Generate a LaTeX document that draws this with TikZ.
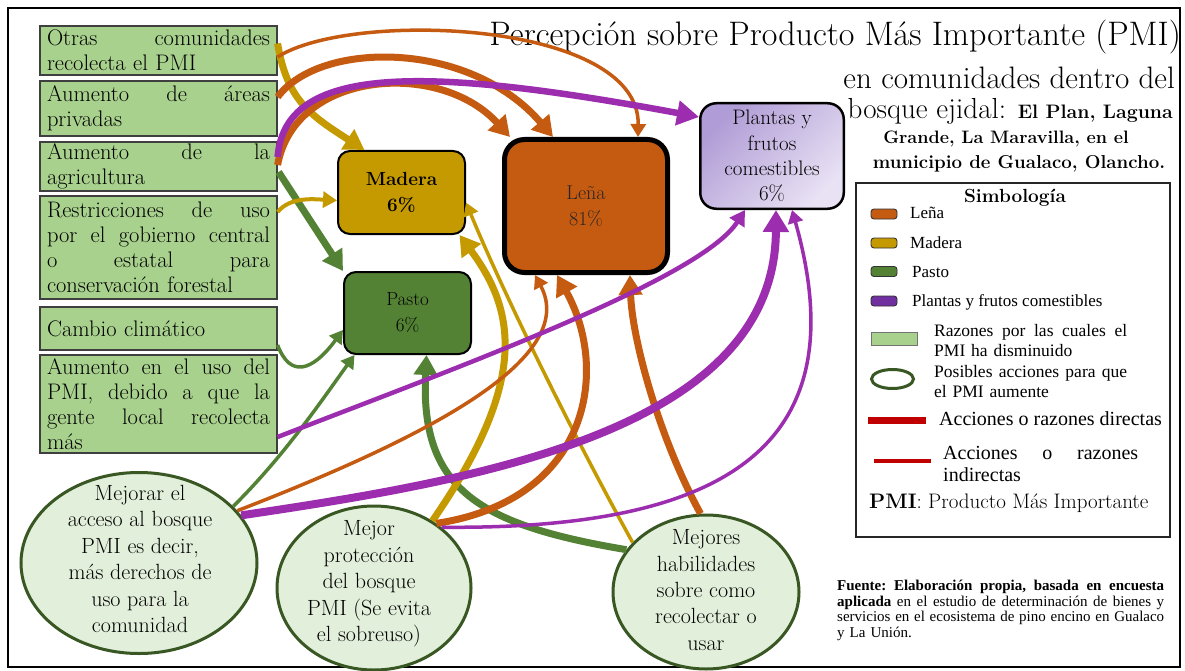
\documentclass[tikz,border=0pt]{standalone}
\usepackage{fontspec}
\newfontfamily\timesf{Liberation Serif}
\usetikzlibrary{arrows.meta,shapes.geometric}

\definecolor{lenacol}{HTML}{C55A11}
\definecolor{maderacol}{HTML}{C49A00}
\definecolor{pastocol}{HTML}{548235}
\definecolor{plantacol}{HTML}{9C2DAE}
\definecolor{plantaswatch}{HTML}{7030A0}
\definecolor{reasonfill}{HTML}{A9D18E}
\definecolor{reasonline}{HTML}{3F3F3F}
\definecolor{actfill}{HTML}{E2EFDA}
\definecolor{actline}{HTML}{385723}
\definecolor{redline}{HTML}{C00000}
\definecolor{plantatop}{HTML}{B09CD6}
\definecolor{plantabot}{HTML}{E9E2F4}

% a line of text whose word spaces stretch to the given width
\newcommand\jl[2]{\leavevmode\hbox to #1{\frenchspacing\spaceskip=0.3em plus 1fill\relax
  \xspaceskip=\spaceskip #2}}

\begin{document}
\begin{tikzpicture}[x=1pt,y=-1pt,
  reason/.style={draw=reasonline, fill=reasonfill, line width=1.2pt, minimum width=237pt,
    inner xsep=7pt, inner ysep=0pt, text width=223pt, align=left,
    font=\fontsize{22.5}{25}\selectfont},
  prodbox/.style={draw=black, rounded corners=12pt, inner sep=0pt, align=center,
    font=\fontsize{19}{26}\selectfont},
  action/.style={ellipse, draw=actline, fill=actfill, line width=3pt, inner sep=0pt},
  actiontext/.style={align=center, inner sep=0pt, font=\fontsize{22}{26.4}\selectfont},
  direct/.style={line width=7pt, -{Triangle[length=20pt,width=23pt]}},
  indirect/.style={line width=3.5pt, -{Triangle[length=13pt,width=15pt]}},
  swatch/.style={draw=black!80, line width=0.9pt, rounded corners=3pt,
    minimum width=26pt, minimum height=10pt, inner sep=0pt},
  legtext/.style={anchor=west, inner sep=0pt, font=\timesf\fontsize{17}{20}\selectfont},
]
\useasboundingbox (0,0) rectangle (1185,671);
\fill[white] (0,0) rectangle (1185,671);
\draw[line width=2.5pt] (8,8) rectangle (1180,667);

% ---------- title ----------
\node[anchor=base east, inner sep=0pt, font=\fontsize{34}{40}\selectfont] (title) at (1181,46)
  {Percepción sobre Producto Más Importante (PMI)};
\node[anchor=base east, inner sep=0pt, font=\fontsize{31}{36}\selectfont] (sub1) at (1175,89)
  {en comunidades dentro del};
\node[anchor=base east, inner sep=0pt, font=\fontsize{29}{34}\selectfont] (sub2) at (1173,119)
  {bosque ejidal: {\bfseries\fontsize{19.5}{23}\selectfont El Plan, Laguna}};
\node[anchor=base, inner sep=0pt, font=\bfseries\fontsize{18}{22}\selectfont] (sub3) at (1006,144)
  {Grande, La Maravilla, en el};
\node[anchor=base, inner sep=0pt, font=\bfseries\fontsize{18.7}{22}\selectfont] (sub4) at (1019,168)
  {municipio de Gualaco, Olancho.};

% ---------- reasons (left column) ----------
\node[reason, minimum height=49pt] (b1) at (158.5,50.5)
  {\jl{223pt}{Otras comunidades}\\recolecta el PMI};
\node[reason, minimum height=55pt] (b2) at (158.5,108.5)
  {\jl{223pt}{Aumento de áreas}\\privadas};
\node[reason, minimum height=49pt] (b3) at (158.5,166.5)
  {\jl{223pt}{Aumento de la}\\agricultura};
\node[reason, minimum height=103pt] (b4) at (158.5,247.5)
  {\jl{223pt}{Restricciones de uso}\\\jl{223pt}{por el gobierno central}\\\jl{223pt}{o estatal para}\\conservación forestal};
\node[reason, minimum height=43pt] (b5) at (158.5,328.5)
  {Cambio climático};
\node[reason, minimum height=98pt] (b6) at (158.5,404)
  {\jl{223pt}{Aumento en el uso del}\\\jl{223pt}{PMI, debido a que la}\\\jl{223pt}{gente local recolecta}\\más};

% ---------- products ----------
\node[prodbox, fill=maderacol, line width=2pt, minimum width=127pt, minimum height=83pt,
  font=\bfseries\fontsize{19}{26}\selectfont] (mad) at (401.5,192.5) {Madera\\6\%};
\node[prodbox, fill=pastocol, line width=2pt, minimum width=127pt, minimum height=82pt] (pas)
  at (407.5,313) {Pasto\\6\%};
\node[prodbox, fill=lenacol, line width=5pt, rounded corners=20pt, minimum width=163pt,
  minimum height=133pt, font=\fontsize{20}{26}\selectfont, text=black!85] (lena)
  at (586,206) {Leña\\81\%};
\node[prodbox, top color=plantatop, bottom color=plantabot, shading angle=45, line width=2.5pt,
  rounded corners=16pt, minimum width=143.5pt, minimum height=105.5pt,
  font=\fontsize{21}{25.3}\selectfont] (pla) at (772,156) {Plantas y\\frutos\\comestibles\\6\%};

% ---------- actions (ellipses) ----------
\node[action, minimum width=236pt, minimum height=181pt] (e1) at (139,563) {};
\node[actiontext] (e1t) at (140,559) {Mejorar el\\acceso al bosque\\PMI es decir,\\más derechos de\\uso para la\\comunidad};
\node[action, minimum width=194pt, minimum height=164pt] (e2) at (374,588) {};
\node[actiontext] (e2t) at (369,584) {Mejor\\protección\\del bosque\\PMI (Se evita\\el sobreuso)};
\node[action, minimum width=186pt, minimum height=154pt] (e3) at (706,592) {};
\node[actiontext] (e3t) at (706,590) {Mejores\\habilidades\\sobre como\\recolectar o\\usar};

% ---------- connectors: pasto ----------
\draw[direct, pastocol] ([shift={(1,5.5)}]b3.east) -- (pas.north west);
\draw[indirect, pastocol] ([shift={(0,16.5)}]b5.east) .. controls (290,378) and (312,372) .. ([shift={(0,17)}]pas.west);
\draw[indirect, pastocol] (e1.31) .. controls (285,455) and (322,400) .. ([shift={(-53,0)}]pas.south);
\draw[direct, pastocol] (e3.152) .. controls (480,525) and (420,490) .. ([shift={(19,0)}]pas.south);

% ---------- connectors: madera ----------
\draw[direct, maderacol] ([shift={(0,-7)}]b1.east) .. controls (287,100) and (310,115) .. ([shift={(-37,0)}]mad.north);
\draw[line width=4pt, -{Triangle[length=14pt,width=16pt]}, maderacol] ([shift={(0,-35.5)}]b4.east) .. controls (290,197) and (312,199) .. ([shift={(0,8)}]mad.west);
\draw[direct, maderacol] (e2.49) .. controls (530,380) and (515,310) .. ([shift={(58,0)}]mad.south);
\draw[indirect, maderacol] (e3.146) .. controls (565,420) and (500,285) .. ([shift={(0,10)}]mad.east);

% ---------- connectors: leña ----------
\draw[indirect, lenacol] ([shift={(0,6.5)}]b1.east) .. controls (350,10) and (640,20) .. ([shift={(52,0)}]lena.north);
\draw[direct, lenacol] ([shift={(0,-11.5)}]b2.east) .. controls (320,40) and (470,40) .. ([shift={(-33,0)}]lena.north);
\draw[direct, lenacol] ([shift={(0,-1.5)}]b3.east) .. controls (295,70) and (440,60) .. ([shift={(-76,0)}]lena.north);
\draw[indirect, lenacol] (e1.28) .. controls (420,440) and (580,360) .. ([shift={(-51,0)}]lena.south);
\draw[direct, lenacol] (e2.46) .. controls (590,500) and (610,370) .. ([shift={(-29,0)}]lena.south);
\draw[direct, lenacol] (e3.94) .. controls (660,440) and (632,340) .. ([shift={(44,0)}]lena.south);

% ---------- connectors: plantas ----------
\draw[line width=6.5pt, -{Triangle[length=22pt,width=24pt]}, plantacol] ([shift={(0,-9.5)}]b3.east) .. controls (285,65) and (420,65) .. ([shift={(0,-39)}]pla.west);
\draw[line width=4.5pt, -{Triangle[length=15pt,width=17pt]}, plantacol] ([shift={(0,33)}]b6.east) .. controls (450,370) and (700,280) .. ([shift={(-27,0)}]pla.south);
\draw[line width=8pt, -{Triangle[length=22pt,width=25pt]}, plantacol] (e1.25) .. controls (480,480) and (775,430) .. ([shift={(4,0)}]pla.south);
\draw[indirect, plantacol] (e2.42) .. controls (720,530) and (860,450) .. ([shift={(20,0)}]pla.south);

% ---------- legend ----------
\node[draw=black!85, line width=1.3pt, minimum width=314pt, minimum height=354pt, inner sep=0pt] (leg) at (1013,360) {};
\node[inner sep=0pt, font=\bfseries\fontsize{19}{23}\selectfont] (legtitle) at (1015,198) {Simbología};
\node[swatch, fill=lenacol] (sw1) at (884,214) {};
\node[legtext] (lt1) at (910,213) {Leña};
\node[swatch, fill=maderacol] (sw2) at (884,243) {};
\node[legtext] (lt2) at (910,243) {Madera};
\node[swatch, fill=pastocol] (sw3) at (884,271.5) {};
\node[legtext] (lt3) at (912,272) {Pasto};
\node[swatch, fill=plantaswatch] (sw4) at (884,301) {};
\node[legtext] (lt4) at (912,302) {Plantas y frutos comestibles};
\node[draw=black!55, fill=reasonfill, line width=0.8pt, minimum width=46pt, minimum height=13pt, inner sep=0pt] (sw5) at (894,338.5) {};
\node[legtext, text width=193pt, align=left, font=\timesf\fontsize{17.5}{20}\selectfont] (lt5) at (934,341)
  {\jl{193pt}{Razones por las cuales el}\\PMI ha disminuido};
\node[ellipse, draw=actline, line width=3pt, minimum width=42pt, minimum height=19pt, inner sep=0pt] (sw6) at (892.5,379) {};
\node[legtext, text width=193pt, align=left, font=\timesf\fontsize{17.5}{20}\selectfont] (lt6) at (934,382)
  {\jl{193pt}{Posibles acciones para que}\\el PMI aumente};
\draw[redline, line width=7pt] (868,420) -- (926,420);
\node[legtext, font=\timesf\fontsize{20}{22}\selectfont] (lt7) at (939,419) {Acciones o razones directas};
\draw[redline, line width=4pt] (874,461) -- (931,461);
\node[legtext, text width=195pt, align=left, font=\timesf\fontsize{20}{22}\selectfont] (lt8) at (943,464)
  {\jl{195pt}{Acciones o razones}\\indirectas};
\node[legtext, font=\fontsize{21}{24}\selectfont] (lt9) at (869,503) {\textbf{PMI}: Producto Más Importante};

% ---------- source note ----------
\node[anchor=west, inner sep=0pt, text width=327pt, align=left, font=\timesf\fontsize{15}{15.7}\selectfont] (src) at (837,610.5)
  {\jl{327pt}{\bfseries Fuente: Elaboración propia, basada en encuesta}\\
   \jl{327pt}{\textbf{aplicada} en el estudio de determinación de bienes y}\\
   \jl{327pt}{servicios en el ecosistema de pino encino en Gualaco}\\
   y La Unión.};
\end{tikzpicture}
\end{document}
